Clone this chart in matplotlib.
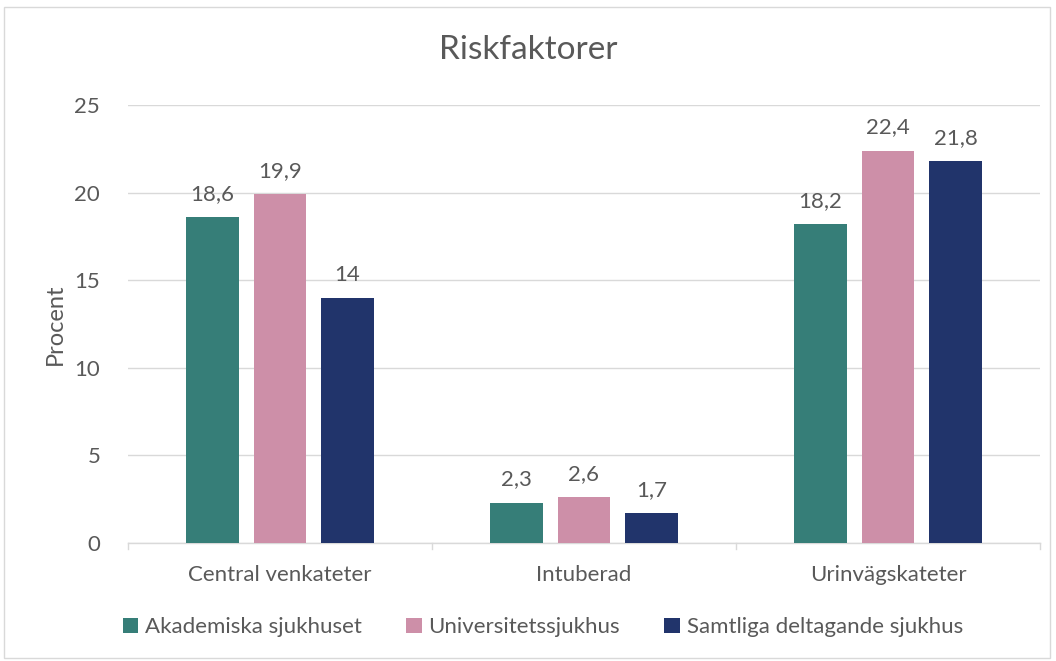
import numpy as np
import matplotlib.pyplot as plt
from matplotlib.patches import Rectangle

plt.rcParams['font.family'] = ['Lato', 'DejaVu Sans']

categories = ['Central venkateter', 'Intuberad', 'Urinvägskateter']
series = ['Akademiska sjukhuset', 'Universitetssjukhus', 'Samtliga deltagande sjukhus']
akademiska = [18.6, 2.3, 18.2]
universitet = [19.9, 2.6, 22.4]
samtliga = [14, 1.7, 21.8]
labels = [['18,6', '2,3', '18,2'], ['19,9', '2,6', '22,4'], ['14', '1,7', '21,8']]
colors = ['#367E78', '#CD8FA8', '#21346B']
grey = '#595959'

fig = plt.figure(figsize=(10.56, 6.61), dpi=100)
fig.patches.append(Rectangle((0.004, 0.005), 0.99, 0.985, transform=fig.transFigure,
                             fill=False, edgecolor='#D9D9D9', linewidth=1))
ax = fig.add_axes([0.1212, 0.1785, 0.8636, 0.6626])

x = np.arange(len(categories))
w = 0.174
step = 0.222
for i, (vals, col) in enumerate(zip([akademiska, universitet, samtliga], colors)):
    bars = ax.bar(x + (i - 1) * step, vals, w, color=col, label=series[i], zorder=3)
    for b, t in zip(bars, labels[i]):
        ax.text(b.get_x() + b.get_width() / 2, b.get_height() + 0.75, t,
                ha='center', va='bottom', fontsize=16, color=grey)

ax.set_xlim(-0.5, 2.5)
ax.set_ylim(0, 25)
ax.set_yticks([0, 5, 10, 15, 20, 25])
ax.yaxis.grid(True, color='#D9D9D9', linewidth=1)
ax.set_axisbelow(True)
for s in ['top', 'right', 'left']:
    ax.spines[s].set_visible(False)
ax.spines['bottom'].set_color('#D9D9D9')
ax.spines['bottom'].set_linewidth(1)
ax.tick_params(axis='y', length=0, labelsize=16, labelcolor=grey, pad=20)
ax.set_xticks(x)
ax.set_xticklabels(categories)
ax.tick_params(axis='x', length=0, labelsize=16, labelcolor=grey, pad=16)
for b in [-0.5, 0.5, 1.5, 2.5]:
    ax.plot([b, b], [0, -0.35], color='#D9D9D9', linewidth=1, clip_on=False)

ax.set_ylabel('Procent', fontsize=17, color=grey, labelpad=6)
fig.text(0.5, 0.925, 'Riskfaktorer', ha='center', va='center', fontsize=24, color=grey)

fig.legend(loc='center', bbox_to_anchor=(0.514, 0.051), ncol=3, frameon=False,
           fontsize=16, labelcolor=grey, handlelength=0.7, handleheight=0.7,
           handletextpad=0.3, columnspacing=2.0)

fig.savefig('out.png', dpi=100)
